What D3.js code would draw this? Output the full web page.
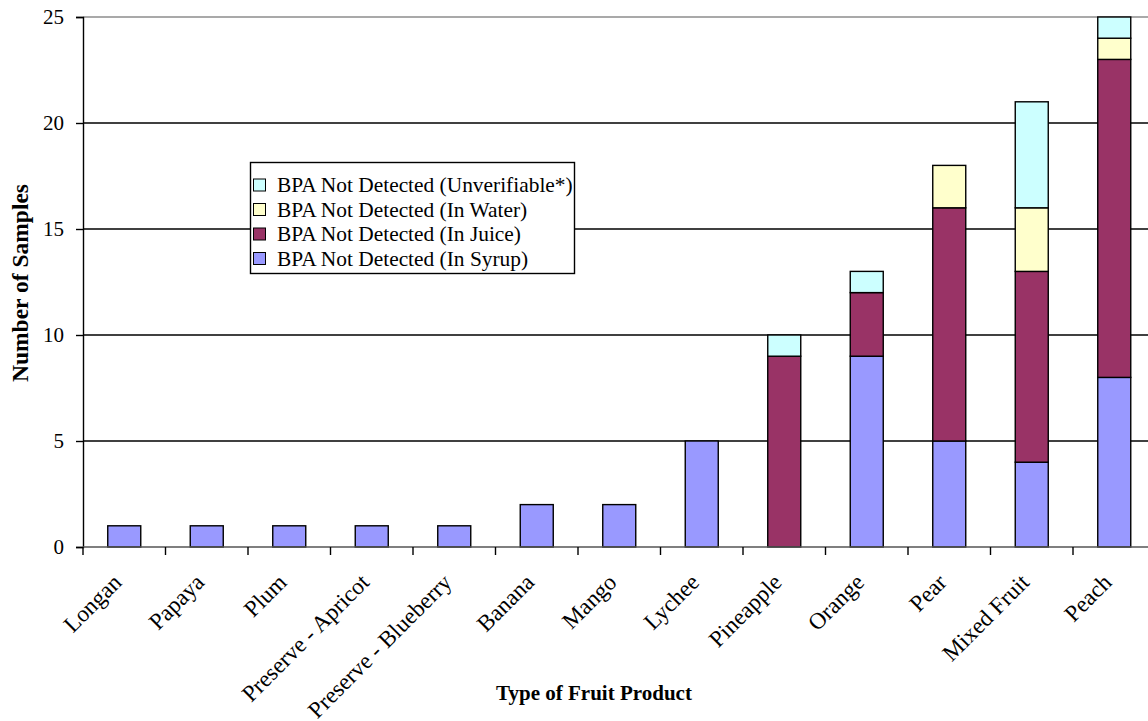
<!DOCTYPE html>
<html>
<head>
<meta charset="utf-8">
<script src="https://cdn.jsdelivr.net/npm/d3@7/dist/d3.min.js"></script>
<style>
  html, body { margin: 0; padding: 0; background: #fff; }
  svg { display: block; font-family: "Liberation Serif", "Times New Roman", serif; }
</style>
</head>
<body>
<svg id="chart" width="1148" height="721"></svg>
<script>
// Fruit product categories and sample counts per packing medium
const categories = ["Longan", "Papaya", "Plum", "Preserve - Apricot", "Preserve - Blueberry",
  "Banana", "Mango", "Lychee", "Pineapple", "Orange", "Pear", "Mixed Fruit", "Peach"];
const inSyrup        = [1, 1, 1, 1, 1, 2, 2, 5, 0, 9, 5, 4, 8];
const inJuice        = [0, 0, 0, 0, 0, 0, 0, 0, 9, 3, 11, 9, 15];
const inWater        = [0, 0, 0, 0, 0, 0, 0, 0, 0, 0, 2, 3, 1];
const unverifiable   = [0, 0, 0, 0, 0, 0, 0, 0, 1, 1, 0, 5, 1];
const seriesNames = ["BPA Not Detected (In Syrup)", "BPA Not Detected (In Juice)",
  "BPA Not Detected (In Water)", "BPA Not Detected (Unverifiable*)"];
const seriesColors = ["#9999ff", "#993366", "#ffffcc", "#ccffff"];
const yTicks = [0, 5, 10, 15, 20, 25];

const svg = d3.select("#chart");
const plotLeft = 83, plotTop = 17, plotBottom = 547;
const bandW = 82.5;
const plotRight = plotLeft + bandW * categories.length;

const x = d3.scaleBand().domain(categories).range([plotLeft, plotRight]).paddingInner(0.6).paddingOuter(0.3);
const xEdges = d3.scaleLinear().domain([0, categories.length]).range([plotLeft, plotRight]);
const y = d3.scaleLinear().domain([0, 25]).range([plotBottom, plotTop]);

// Horizontal gridlines
svg.append("g").selectAll("line").data(yTicks.filter(d => d > 0)).join("line")
  .attr("x1", plotLeft).attr("x2", 1148)
  .attr("y1", d => y(d)).attr("y2", d => y(d))
  .attr("stroke", d => d === 25 ? "#8c8c8c" : "#000").attr("stroke-width", 1.3);

// Stacked bars
const rows = categories.map((c, i) => ({ cat: c, s0: inSyrup[i], s1: inJuice[i], s2: inWater[i], s3: unverifiable[i] }));
const stack = d3.stack().keys(["s0", "s1", "s2", "s3"]);
const layers = stack(rows);
svg.append("g").selectAll("g").data(layers).join("g")
  .attr("fill", (d, i) => seriesColors[i])
  .selectAll("rect").data(d => d.filter(p => p[1] > p[0])).join("rect")
  .attr("x", d => x(d.data.cat))
  .attr("width", x.bandwidth())
  .attr("y", d => y(d[1]))
  .attr("height", d => y(d[0]) - y(d[1]))
  .attr("stroke", "#000").attr("stroke-width", 1.4);

// Y axis
const yAxis = d3.axisLeft(y).tickValues(yTicks).tickSize(7).tickPadding(12);
const yg = svg.append("g").attr("transform", `translate(${plotLeft},0)`).call(yAxis);
yg.select(".domain").attr("stroke", "#000").attr("stroke-width", 1.4);
yg.selectAll(".tick line").attr("stroke", "#000").attr("stroke-width", 1.4);
yg.selectAll(".tick text").attr("font-size", 21).attr("font-family", "Liberation Serif").attr("fill", "#000");

// X axis baseline and category tick marks at band edges
svg.append("line").attr("x1", plotLeft).attr("x2", 1148).attr("y1", plotBottom).attr("y2", plotBottom)
  .attr("stroke", "#555").attr("stroke-width", 1.4);
svg.append("g").selectAll("line").data(d3.range(categories.length + 1)).join("line")
  .attr("x1", d => xEdges(d)).attr("x2", d => xEdges(d))
  .attr("y1", plotBottom).attr("y2", plotBottom + 8)
  .attr("stroke", "#000").attr("stroke-width", 1.4);

// Rotated category labels
svg.append("g").selectAll("text").data(categories).join("text")
  .attr("transform", d => `translate(${x(d) + x.bandwidth() / 2 - 7},${plotBottom + 31}) rotate(-45)`)
  .attr("text-anchor", "end")
  .attr("dy", "0.35em")
  .attr("font-size", 23.2)
  .text(d => d);

// Axis titles
svg.append("text").attr("x", 594).attr("y", 700).attr("text-anchor", "middle")
  .attr("font-size", 21).attr("font-weight", "bold").text("Type of Fruit Product");
svg.append("text").attr("transform", "translate(28,283) rotate(-90)").attr("text-anchor", "middle")
  .attr("font-size", 23.5).attr("font-weight", "bold").text("Number of Samples");

// Legend
const lg = svg.append("g");
lg.append("rect").attr("x", 250.5).attr("y", 162.5).attr("width", 324).attr("height", 111)
  .attr("fill", "#fff").attr("stroke", "#000").attr("stroke-width", 1.4);
const legendOrder = [3, 2, 1, 0];
legendOrder.forEach((si, k) => {
  const cy = 185 + k * 24.5;
  lg.append("rect").attr("x", 253.5).attr("y", cy - 6).attr("width", 12).attr("height", 12)
    .attr("fill", seriesColors[si]).attr("stroke", "#000").attr("stroke-width", 1);
  lg.append("text").attr("x", 277).attr("y", cy).attr("dy", "0.35em")
    .attr("font-size", 21.4).text(seriesNames[si]);
});
</script>
</body>
</html>
